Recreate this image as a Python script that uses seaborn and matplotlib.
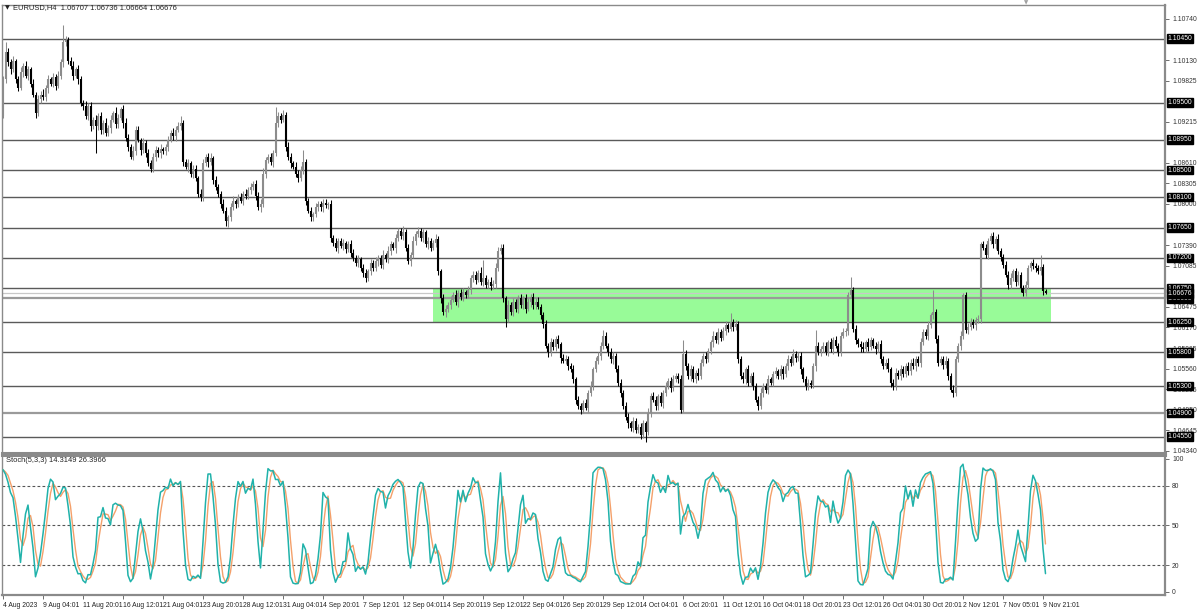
import numpy as np
import pandas as pd
import matplotlib
matplotlib.use("Agg")
import matplotlib.pyplot as plt
import matplotlib.transforms as mtrans
import seaborn as sns

# ---------------- data (prices in pips, 1 pip = 0.0001) ----------------
open0 = 10930
close_pips = [
    10985, 11025, 11010, 11000, 11012, 10985, 10972, 10995, 11005, 10990, 11000, 10978, 10962, 10935, 10955, 10962, 10958, 10972, 10985, 10978,
    10988, 10975, 10990, 11010, 11040, 11043, 11012, 11005, 10990, 11000, 10985, 10950, 10945, 10930, 10945, 10915, 10925, 10915, 10930, 10910,
    10920, 10905, 10912, 10925, 10935, 10918, 10928, 10940, 10920, 10898, 10885, 10870, 10878, 10910, 10895, 10880, 10890, 10875, 10860, 10852,
    10870, 10880, 10875, 10882, 10878, 10884, 10895, 10905, 10900, 10910, 10915, 10920, 10862, 10855, 10860, 10845, 10852, 10838, 10815, 10810,
    10860, 10870, 10862, 10868, 10835, 10825, 10815, 10800, 10790, 10775, 10780, 10795, 10805, 10800, 10810, 10805, 10815, 10812, 10820, 10825,
    10830, 10812, 10795, 10800, 10845, 10865, 10870, 10862, 10875, 10920, 10930, 10925, 10932, 10885, 10870, 10860, 10855, 10845, 10838, 10850,
    10862, 10805, 10790, 10780, 10785, 10795, 10800, 10795, 10802, 10798, 10800, 10750, 10742, 10735, 10745, 10738, 10742, 10733, 10740, 10728,
    10720, 10712, 10718, 10705, 10698, 10690, 10700, 10712, 10705, 10715, 10720, 10710, 10725, 10718, 10730, 10740, 10735, 10750, 10760, 10752,
    10758, 10735, 10715, 10725, 10745, 10755, 10760, 10750, 10758, 10740, 10745, 10735, 10742, 10748, 10700, 10660, 10640, 10645, 10650, 10658,
    10665, 10655, 10668, 10662, 10670, 10665, 10672, 10690, 10695, 10688, 10698, 10685, 10690, 10680, 10685, 10678, 10682, 10705, 10730, 10735,
    10660, 10630, 10650, 10640, 10655, 10645, 10660, 10650, 10660, 10645, 10655, 10662, 10650, 10655, 10648, 10635, 10622, 10590, 10580, 10595,
    10588, 10600, 10592, 10572, 10568, 10570, 10560, 10555, 10540, 10510, 10500, 10495, 10505, 10498, 10520, 10530, 10555, 10568, 10575, 10590,
    10605, 10590, 10580, 10570, 10575, 10555, 10535, 10520, 10500, 10485, 10475, 10468, 10478, 10465, 10470, 10458, 10475, 10462, 10490, 10515,
    10510, 10500, 10515, 10505, 10520, 10530, 10538, 10528, 10540, 10545, 10540, 10495, 10578, 10560, 10545, 10555, 10540, 10550, 10545, 10565,
    10575, 10570, 10582, 10595, 10605, 10598, 10610, 10602, 10612, 10620, 10615, 10625, 10618, 10622, 10570, 10545, 10540, 10555, 10535, 10545,
    10530, 10510, 10500, 10520, 10530, 10525, 10540, 10535, 10548, 10552, 10545, 10555, 10548, 10560, 10570, 10565, 10578, 10572, 10575, 10555,
    10540, 10530, 10535, 10532, 10560, 10590, 10580, 10585, 10590, 10580, 10595, 10585, 10598, 10590, 10580, 10605, 10610, 10612, 10665, 10672,
    10615, 10598, 10592, 10588, 10585, 10595, 10588, 10598, 10590, 10585, 10592, 10570, 10560, 10565, 10555, 10535, 10530, 10550, 10545, 10555,
    10548, 10560, 10552, 10565, 10560, 10570, 10565, 10595, 10610, 10605, 10620, 10635, 10640, 10600, 10565, 10570, 10562, 10568, 10545, 10525,
    10520, 10570, 10590, 10605, 10665, 10613, 10618, 10625, 10620, 10628, 10630, 10740, 10735, 10725, 10745, 10752, 10740, 10748, 10730, 10722,
    10710, 10695, 10680, 10690, 10700, 10685, 10695, 10675, 10668, 10680, 10705, 10712, 10708, 10705, 10700, 10706, 10671, 10668,
]
upper_wick = [
    5, 15, 6, 4, 7, 3, 5, 8, 4, 6, 5, 3, 7, 4, 6, 5, 8, 4, 6, 3,
    6, 4, 7, 5, 25, 6, 4, 5, 7, 3, 6, 5, 4, 8, 5, 6, 4, 7, 5, 6,
    4, 7, 5, 6, 3, 8, 5, 4, 6, 7, 5, 4, 8, 6, 5, 3, 7, 4, 6, 5,
    5, 6, 4, 7, 3, 5, 6, 4, 8, 5, 6, 10, 5, 4, 7, 3, 6, 5, 4, 7,
    6, 4, 5, 7, 3, 6, 5, 4, 8, 5, 4, 6, 7, 3, 5, 6, 4, 7, 5, 6,
    4, 6, 5, 7, 8, 5, 4, 6, 5, 24, 6, 5, 7, 4, 6, 5, 3, 7, 5, 6,
    18, 5, 4, 6, 3, 7, 5, 4, 6, 5, 3, 6, 4, 7, 5, 4, 6, 3, 5, 6,
    5, 4, 7, 3, 6, 5, 4, 6, 5, 7, 4, 5, 6, 3, 7, 5, 4, 6, 5, 4,
    10, 5, 6, 4, 7, 5, 6, 4, 5, 3, 6, 5, 4, 7, 5, 4, 6, 5, 4, 6,
    5, 7, 4, 6, 5, 3, 7, 4, 5, 6, 4, 8, 27, 5, 4, 6, 5, 7, 6, 5,
    6, 4, 7, 5, 6, 4, 5, 7, 3, 6, 5, 4, 6, 5, 7, 4, 5, 6, 4, 7,
    5, 4, 6, 3, 5, 6, 4, 5, 7, 4, 6, 5, 4, 6, 5, 7, 4, 5, 6, 5,
    8, 5, 4, 6, 5, 4, 6, 5, 4, 6, 5, 4, 7, 5, 4, 6, 5, 4, 7, 5,
    6, 5, 4, 7, 5, 6, 4, 5, 6, 4, 5, 6, 20, 5, 4, 6, 5, 4, 7, 5,
    4, 6, 5, 4, 7, 5, 6, 4, 5, 6, 4, 13, 5, 6, 4, 5, 6, 4, 7, 5,
    6, 4, 5, 7, 4, 5, 6, 4, 5, 7, 4, 6, 5, 4, 6, 5, 7, 4, 5, 6,
    4, 5, 6, 4, 5, 23, 5, 4, 6, 5, 4, 7, 5, 6, 4, 5, 6, 4, 5, 20,
    5, 6, 4, 5, 7, 4, 6, 5, 4, 6, 5, 7, 4, 5, 6, 4, 5, 7, 4, 6,
    5, 4, 6, 5, 7, 4, 5, 6, 4, 5, 6, 4, 32, 5, 6, 4, 5, 7, 4, 5,
    6, 5, 4, 6, 3, 4, 5, 6, 4, 5, 6, 4, 5, 6, 4, 5, 6, 4, 7, 5,
    4, 6, 5, 7, 4, 5, 6, 4, 5, 6, 5, 4, 6, 5, 4, 18, 5, 3,
]
lower_wick = [
    2, 6, 5, 7, 4, 6, 5, 3, 7, 4, 6, 5, 4, 7, 5, 6, 4, 5, 7, 4,
    5, 6, 4, 5, 7, 6, 4, 5, 6, 4, 7, 5, 6, 4, 5, 7, 4, 40, 5, 6,
    6, 4, 5, 7, 4, 6, 5, 4, 7, 5, 6, 4, 5, 6, 4, 7, 5, 6, 4, 5,
    4, 6, 5, 7, 4, 5, 6, 4, 5, 7, 4, 5, 6, 4, 7, 5, 6, 4, 5, 6,
    5, 4, 7, 5, 6, 4, 5, 6, 4, 7, 9, 5, 4, 6, 5, 4, 7, 5, 4, 6,
    5, 6, 4, 7, 5, 6, 4, 5, 7, 4, 6, 5, 4, 6, 5, 7, 4, 5, 6, 4,
    5, 7, 4, 6, 5, 4, 6, 5, 7, 4, 5, 6, 4, 5, 7, 4, 6, 5, 4, 6,
    5, 4, 6, 5, 7, 5, 4, 6, 5, 4, 7, 5, 6, 4, 5, 6, 4, 7, 5, 4,
    6, 5, 4, 7, 5, 6, 4, 5, 6, 4, 7, 5, 4, 6, 5, 7, 4, 8, 5, 6,
    4, 5, 7, 4, 6, 5, 4, 6, 5, 7, 4, 5, 6, 4, 5, 6, 4, 7, 5, 4,
    6, 12, 5, 4, 6, 5, 7, 4, 5, 6, 4, 7, 5, 6, 4, 5, 6, 4, 7, 5,
    4, 6, 5, 7, 4, 5, 6, 4, 5, 7, 4, 6, 5, 4, 7, 5, 6, 4, 5, 6,
    5, 4, 6, 5, 7, 4, 5, 6, 4, 5, 7, 4, 6, 5, 4, 6, 5, 14, 5, 6,
    4, 5, 6, 4, 7, 5, 4, 6, 5, 4, 6, 5, 4, 6, 5, 7, 4, 5, 6, 4,
    5, 6, 4, 5, 7, 4, 6, 5, 4, 6, 5, 4, 7, 5, 6, 4, 5, 7, 5, 4,
    6, 4, 5, 4, 6, 5, 7, 4, 5, 6, 4, 5, 7, 4, 6, 5, 4, 6, 5, 7,
    4, 5, 6, 4, 5, 7, 4, 6, 5, 4, 6, 5, 7, 4, 5, 6, 4, 5, 6, 4,
    5, 6, 4, 7, 5, 4, 6, 5, 4, 7, 5, 6, 4, 5, 4, 6, 6, 5, 4, 6,
    5, 4, 6, 5, 4, 7, 5, 6, 4, 5, 6, 4, 5, 6, 5, 4, 7, 5, 6, 4,
    6, 5, 4, 6, 5, 4, 6, 5, 4, 7, 5, 6, 4, 5, 6, 4, 5, 7, 4, 6,
    5, 4, 6, 5, 4, 7, 5, 6, 4, 5, 6, 4, 5, 6, 4, 5, 6, 2,
]

levels = [1.10450, 1.09500, 1.08950, 1.08500, 1.08100, 1.07650, 1.07200,
          1.06750, 1.06600, 1.06250, 1.05800, 1.05300, 1.04900, 1.04550]
light_levels = [1.06600, 1.04900]
zone_low, zone_high = 1.06250, 1.06750
zone_start, zone_end = 172, 419
last_price = 1.06676
price_ticks = [1.10740, 1.10130, 1.09825, 1.09215, 1.08610, 1.08305, 1.08000,
               1.07390, 1.07085, 1.06475, 1.06170, 1.05865, 1.05560, 1.05255,
               1.04950, 1.04645, 1.04340]
time_labels = ["4 Aug 2023", "9 Aug 04:01", "11 Aug 20:01", "16 Aug 12:01", "21 Aug 04:01",
               "23 Aug 20:01", "28 Aug 12:01", "31 Aug 04:01", "4 Sep 20:01", "7 Sep 12:01",
               "12 Sep 04:01", "14 Sep 20:01", "19 Sep 12:01", "22 Sep 04:01", "26 Sep 20:01",
               "29 Sep 12:01", "4 Oct 04:01", "6 Oct 20:01", "11 Oct 12:01", "16 Oct 04:01",
               "18 Oct 20:01", "23 Oct 12:01", "26 Oct 04:01", "30 Oct 20:01", "2 Nov 12:01",
               "7 Nov 05:01", "9 Nov 21:01"]
time_label_step = 16
stoch_levels = [80, 50, 20]
stoch_ticks = [100, 80, 50, 20, 0]
title_text = "EURUSD,H4  1.06707 1.06736 1.06664 1.06676"
stoch_text = "Stoch(5,3,3) 14.3149 26.3966"

# ---------------- build OHLC ----------------
n = min(len(close_pips), len(upper_wick), len(lower_wick))
c = np.array(close_pips[:n], dtype=float) / 1e4
o = np.r_[open0, close_pips[:n - 1]].astype(float) / 1e4
h = np.maximum(o, c) + np.array(upper_wick[:n]) / 1e4
l = np.minimum(o, c) - np.array(lower_wick[:n]) / 1e4
df = pd.DataFrame({"bar": np.arange(n), "open": o, "high": h, "low": l, "close": c})

# Stochastic (5,3,3)
hh = df["high"].rolling(5, min_periods=1).max()
ll = df["low"].rolling(5, min_periods=1).min()
df["K"] = 100 * (df["close"] - ll).rolling(3, min_periods=1).sum() / (hh - ll).rolling(3, min_periods=1).sum()
df["D"] = df["K"].rolling(3, min_periods=1).mean()

# ---------------- figure ----------------
sns.set_theme(style="white")
FONT = ["Liberation Sans", "DejaVu Sans"]
plt.rcParams["font.family"] = FONT
FS = 4.9
W, H = 1200, 610
fig = plt.figure(figsize=(W / 100, H / 100), dpi=100, facecolor="white")

def fx(px):
    return px / W

def fy(py):
    return 1 - py / H

ax = fig.add_axes([fx(2), fy(453), fx(1163), (453 - 5) / H])
ax2 = fig.add_axes([fx(2), fy(595), fx(1163), (595 - 455) / H])

xmin, xmax = -0.4, 464.8
ax.set_xlim(xmin, xmax)
ax2.set_xlim(xmin, xmax)
ax.set_ylim(1.04310, 1.10947)
ax2.set_ylim(-2.5, 103)

spine_col = "#8a8a8a"
for a in (ax, ax2):
    for s in a.spines.values():
        s.set_color(spine_col)
        s.set_linewidth(1.0)
    a.spines["right"].set_linewidth(1.6)
ax.spines["bottom"].set_linewidth(2.2)
ax2.spines["top"].set_linewidth(2.2)
ax2.spines["bottom"].set_linewidth(1.6)

# zone
ax.fill_between([zone_start, zone_end], zone_low, zone_high, color="#98FB98", lw=0, zorder=1)

# horizontal levels
for lv in levels:
    if lv in light_levels:
        ax.axhline(lv, color="#9a9a9a", lw=1.6, zorder=2)
    else:
        ax.axhline(lv, color="#5a5a5a", lw=1.0, zorder=2)
ax.axhline(last_price, color="#c8c8c8", lw=0.9, zorder=2)

# candles
bull = df["close"] >= df["open"]
cols = np.where(bull, "#8c8c8c", "#000000")
ax.vlines(df["bar"], df["low"], df["high"], colors=cols, lw=0.75, zorder=3)
ax.vlines(df["bar"], np.minimum(df["open"], df["close"]), np.maximum(df["open"], df["close"]),
          colors=cols, lw=1.5, zorder=4)

# price axis on right
ax.yaxis.tick_right()
ax.set_yticks(price_ticks)
ax.set_yticklabels([f"{t:.5f}" for t in price_ticks])
ax.tick_params(axis="y", which="both", length=3, width=0.6, color="#555555", labelsize=FS,
               labelcolor="#333333", pad=2, right=True, left=False)
ax.set_xticks([])
ax.set_xlabel("")
ax.set_ylabel("")

trans = mtrans.blended_transform_factory(ax.transAxes, ax.transData)
for lv in levels + [last_price]:
    ax.text(1.0022, lv, f"{lv:.5f}", transform=trans, fontsize=FS, color="white",
            va="center", ha="left",
            bbox=dict(boxstyle="square,pad=0.12", fc="black", ec="black"), zorder=10, clip_on=False)

# titles
fig.text(fx(5), fy(8), "\u25BC", fontsize=4.5, color="#222222", va="center", ha="left",
         family=["DejaVu Sans"])
fig.text(fx(13), fy(8), title_text, fontsize=5.4, color="#222222", va="center", ha="left")
fig.text(fx(1026), fy(3), "\u25BC", fontsize=4, color="#a0a0a0", va="center", ha="center",
         family=["DejaVu Sans"])

# stochastic panel
for lv in stoch_levels:
    ax2.axhline(lv, color="#555555", lw=0.8, ls=(0, (2.5, 2.0)), zorder=1)
sns.lineplot(data=df, x="bar", y="D", ax=ax2, color="#F4A06A", lw=1.0, zorder=3)
sns.lineplot(data=df, x="bar", y="K", ax=ax2, color="#20B2AA", lw=1.1, zorder=4)
ax2.set_xlabel("")
ax2.set_ylabel("")
ax2.yaxis.tick_right()
ax2.set_yticks(stoch_ticks)
ax2.set_yticklabels([str(t) for t in stoch_ticks])
ax2.tick_params(axis="y", length=3, width=0.6, color="#555555", labelsize=FS,
                labelcolor="#333333", pad=2, right=True, left=False)
tick_pos = [i * time_label_step for i in range(len(time_labels))]
ax2.set_xticks(tick_pos)
ax2.set_xticklabels(time_labels)
ax2.tick_params(axis="x", length=3, width=0.6, color="#555555", labelsize=FS,
                labelcolor="#222222", pad=2, bottom=True)
for lab in ax2.get_xticklabels():
    lab.set_ha("left")
fig.text(fx(6), fy(461), stoch_text, fontsize=5.4, color="#222222", va="center", ha="left")

fig.savefig("out.png", dpi=100, facecolor="white")
